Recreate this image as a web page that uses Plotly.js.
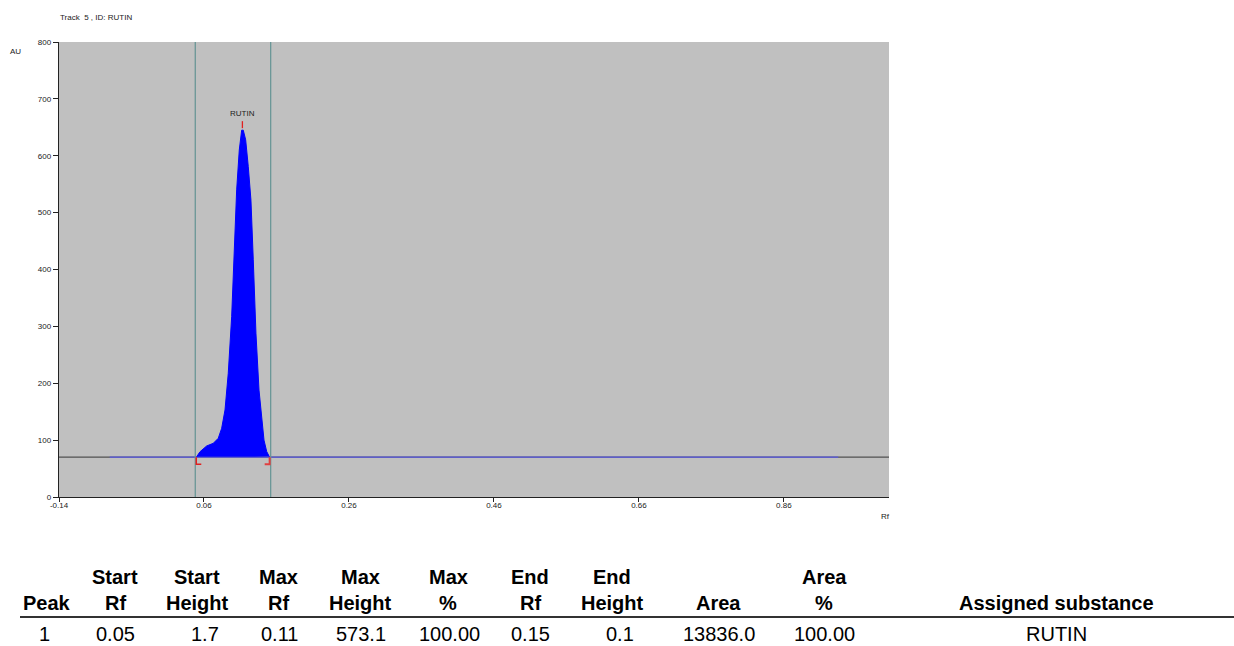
<!DOCTYPE html>
<html><head><meta charset="utf-8">
<script src="https://cdn.plot.ly/plotly-3.0.1.min.js"></script>
<style>html,body{margin:0;padding:0;background:#fff}</style>
</head><body><div id="chart" style="width:1234px;height:646px"></div>
<script>
// ---- data ----
const trackTitle = 'Track  5 , ID: RUTIN';
const peakName = 'RUTIN';
const peakRf = [0.0499, 0.0545, 0.0637, 0.0728, 0.0797, 0.0844, 0.0890, 0.0935, 0.0982, 0.1018, 0.1051, 0.1087, 0.1120, 0.1142, 0.1175, 0.1211, 0.1248, 0.1280, 0.1317, 0.1359, 0.1396, 0.1428, 0.1465, 0.1501];
const peakAU = [70.9, 79.6, 89.7, 94.4, 103.2, 120.8, 153, 217.5, 317, 434, 540, 610, 645, 645, 628, 581, 522, 417, 288, 188, 135, 100, 80, 71];
const baselineAU = 70;
const scanRange = [-0.14, 1.005];
const baselineRf = [-0.07, 0.935];
const windowRf = [0.048, 0.152];
const maxRf = 0.113;
const maxAU = 645;
const xTicks = [-0.14, 0.06, 0.26, 0.46, 0.66, 0.86];
const xTickLabels = ['-0.14', '0.06', '0.26', '0.46', '0.66', '0.86'];
const yTicks = [0, 100, 200, 300, 400, 500, 600, 700, 800];

const headerTop = ['', 'Start', 'Start', 'Max', 'Max', 'Max', 'End', 'End', '', 'Area', ''];
const headerBottom = ['Peak', 'Rf', 'Height', 'Rf', 'Height', '%', 'Rf', 'Height', 'Area', '%', 'Assigned substance'];
const rowValues = ['1', '0.05', '1.7', '0.11', '573.1', '100.00', '0.15', '0.1', '13836.0', '100.00', 'RUTIN'];

// ---- layout helpers (pixel positions of table columns) ----
const headX = [47, 115, 197, 278, 360, 448, 530, 612, 718, 824, 1056];
const rowX = [44, 115, 205, 279, 361, 449, 530, 620, 719, 824, 1056];
const L = 59, R = 889, T = 42, B = 497;
const px = x => (x - L) / (R - L);
const py = y => (B - y) / (B - T);
const FONT = 'Arial, "Liberation Sans", sans-serif';

const traces = [
  { x: scanRange, y: [baselineAU, baselineAU], mode: 'lines', line: { color: '#505050', width: 1.3 }, hoverinfo: 'skip' },
  { x: baselineRf, y: [baselineAU, baselineAU], mode: 'lines', line: { color: '#5a5ae6', width: 1.3 }, hoverinfo: 'skip' },
  { x: peakRf, y: peakAU, mode: 'lines', fill: 'toself', fillcolor: '#0000ff', line: { color: '#0000ff', width: 1 }, hoverinfo: 'skip' }
];

const shapes = [];
windowRf.forEach(v => shapes.push({ type: 'line', xref: 'x', yref: 'paper', x0: v, x1: v, y0: 0, y1: 1, line: { color: '#6a9696', width: 1.3 }, layer: 'above' }));
shapes.push({ type: 'path', xref: 'x', yref: 'y', xsizemode: 'pixel', ysizemode: 'pixel', xanchor: windowRf[0], yanchor: baselineAU, path: 'M1,0 V-7 H6', line: { color: '#e02020', width: 1.5 } });
shapes.push({ type: 'path', xref: 'x', yref: 'y', xsizemode: 'pixel', ysizemode: 'pixel', xanchor: windowRf[1], yanchor: baselineAU, path: 'M-1,0 V-7 H-6', line: { color: '#e04040', width: 2 } });
shapes.push({ type: 'line', xref: 'x', yref: 'y', ysizemode: 'pixel', yanchor: maxAU, x0: maxRf, x1: maxRf, y0: 2, y1: 9, line: { color: '#e02020', width: 1.3 } });
shapes.push({ type: 'line', xref: 'paper', yref: 'paper', x0: px(20), x1: px(1234), y0: py(617), y1: py(617), line: { color: '#333', width: 2 } });

const annotations = [
  { text: trackTitle, xref: 'paper', yref: 'paper', x: px(58), y: py(18), xanchor: 'left', yanchor: 'middle', showarrow: false, font: { family: FONT, size: 8, color: '#222' } },
  { text: 'AU', xref: 'paper', yref: 'paper', x: px(8), y: py(51), xanchor: 'left', yanchor: 'middle', showarrow: false, font: { family: FONT, size: 8, color: '#222' } },
  { text: 'Rf', xref: 'paper', yref: 'paper', x: px(885), y: py(516), xanchor: 'center', yanchor: 'middle', showarrow: false, font: { family: FONT, size: 8, color: '#222' } },
  { text: peakName, xref: 'x', yref: 'y', x: maxRf, y: maxAU, yshift: 10, xanchor: 'center', yanchor: 'bottom', showarrow: false, font: { family: FONT, size: 8, color: '#222' } }
];
headerTop.forEach((t, i) => { if (t) annotations.push({ text: '<b>' + t + '</b>', xref: 'paper', yref: 'paper', x: px(headX[i]), y: py(577), xanchor: 'center', yanchor: 'middle', showarrow: false, font: { family: FONT, size: 20, color: '#000' } }); });
headerBottom.forEach((t, i) => annotations.push({ text: '<b>' + t + '</b>', xref: 'paper', yref: 'paper', x: px(headX[i]), y: py(603), xanchor: 'center', yanchor: 'middle', showarrow: false, font: { family: FONT, size: 20, color: '#000' } }));
rowValues.forEach((t, i) => annotations.push({ text: t, xref: 'paper', yref: 'paper', x: px(rowX[i]), y: py(634), xanchor: 'center', yanchor: 'middle', showarrow: false, font: { family: FONT, size: 20, color: '#000' } }));

const layout = {
  width: 1234, height: 646,
  margin: { l: L, r: 1234 - R, t: T, b: 646 - B, pad: 0 },
  paper_bgcolor: '#ffffff', plot_bgcolor: '#c0c0c0',
  showlegend: false,
  font: { family: FONT, size: 8, color: '#222' },
  xaxis: { range: scanRange, tickvals: xTicks, ticktext: xTickLabels, ticklabelstandoff: -4, showgrid: false, zeroline: false, showline: true, linecolor: '#222', linewidth: 1.3, ticks: 'outside', ticklen: 4, tickcolor: '#222', tickfont: { family: FONT, size: 8, color: '#222' }, fixedrange: true },
  yaxis: { range: [0, 800], tickvals: yTicks, showgrid: false, zeroline: false, showline: true, linecolor: '#222', linewidth: 1.3, ticks: 'outside', ticklen: 5, tickcolor: '#222', tickfont: { family: FONT, size: 8, color: '#222' }, fixedrange: true },
  shapes: shapes,
  annotations: annotations
};

Plotly.newPlot('chart', traces, layout, { staticPlot: true });
</script>
</body></html>
